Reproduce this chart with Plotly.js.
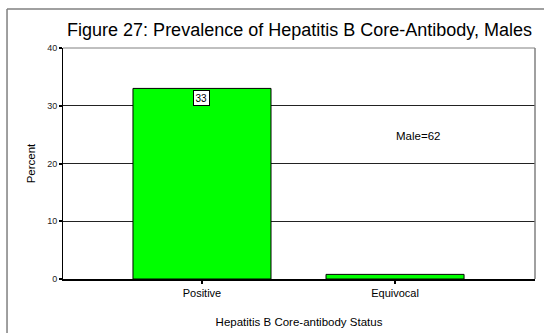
<!DOCTYPE html>
<html>
<head>
<meta charset="utf-8">
<script src="https://cdn.plot.ly/plotly-3.0.1.min.js"></script>
<style>
  html, body { margin: 0; padding: 0; background: #fff; overflow: hidden; }
  #chart { width: 544px; height: 333px; }
</style>
</head>
<body>
<div id="chart"></div>
<script>
// Hepatitis B core-antibody status among males (percent)
const categories = ['Positive', 'Equivocal'];
const percents = [33, 0.8];
const barLabels = ['33'];
const sampleNote = 'Male=62';
const yTicks = [0, 10, 20, 30, 40];

const FONT = 'Liberation Sans, Arial, sans-serif';

const trace = {
  type: 'bar',
  x: categories,
  y: percents,
  width: 0.715,
  marker: { color: '#00ff00', line: { color: '#000', width: 1 } },
  hoverinfo: 'skip'
};

// boxed value labels sitting just inside the top of each labelled bar
const valueAnnotations = barLabels.map((t, i) => ({
  x: categories[i], y: percents[i], xref: 'x', yref: 'y',
  text: t, showarrow: false, yanchor: 'top', yshift: -2,
  bgcolor: '#fff', bordercolor: '#000', borderwidth: 1, borderpad: 1.5,
  font: { family: FONT, size: 10, color: '#000' }
}));

const layout = {
  width: 544, height: 333,
  margin: { l: 63, r: 9, t: 48, b: 54, pad: 0 },
  paper_bgcolor: '#fff', plot_bgcolor: '#fff',
  showlegend: false,
  title: {
    text: 'Figure 27: Prevalence of Hepatitis B Core-Antibody, Males',
    font: { family: FONT, size: 18, color: '#000' },
    x: 0.5506, xanchor: 'center', y: 0.91, yanchor: 'middle'
  },
  xaxis: {
    type: 'category',
    range: [-0.72, 1.725],
    showline: true, linecolor: '#000', linewidth: 1.5,
    ticks: 'outside', ticklen: 3, tickwidth: 2, tickcolor: '#000',
    showgrid: false, zeroline: false,
    tickfont: { family: FONT, size: 11, color: '#000' },
    title: { text: 'Hepatitis B Core-antibody Status', standoff: 20,
             font: { family: FONT, size: 11.5, color: '#000' } },
    fixedrange: true
  },
  yaxis: {
    range: [0, 40], tickvals: yTicks,
    showline: true, linecolor: '#000', linewidth: 1,
    ticks: 'outside', ticklen: 3, tickwidth: 2, tickcolor: '#000',
    showgrid: true, gridcolor: '#222', gridwidth: 1,
    zeroline: false,
    tickfont: { family: FONT, size: 9, color: '#222' },
    title: { text: 'Percent', standoff: 9,
             font: { family: FONT, size: 11.5, color: '#000' } },
    fixedrange: true
  },
  shapes: [
    // outer chart frame: left and top edges, running off the page
    { type: 'line', xref: 'paper', yref: 'paper',
      x0: -0.1186, x1: -0.1186, y0: -0.2338, y1: 1.1688,
      line: { color: '#808080', width: 1.5 }, layer: 'below' },
    { type: 'line', xref: 'paper', yref: 'paper',
      x0: -0.1186, x1: 1.0191, y0: 1.1688, y1: 1.1688,
      line: { color: '#808080', width: 1.5 }, layer: 'below' },
    // plot-area top and right border
    { type: 'line', xref: 'paper', yref: 'paper', x0: 0, x1: 1, y0: 1, y1: 1,
      line: { color: '#808080', width: 1 }, layer: 'above' },
    { type: 'line', xref: 'paper', yref: 'paper', x0: 1, x1: 1, y0: 0, y1: 1,
      line: { color: '#808080', width: 1.5 }, layer: 'above' }
  ],
  annotations: valueAnnotations.concat([
    { x: 0.752, y: 0.62, xref: 'paper', yref: 'paper', text: sampleNote,
      showarrow: false, xanchor: 'center', yanchor: 'middle',
      font: { family: FONT, size: 11.5, color: '#000' } }
  ])
};

Plotly.newPlot('chart', [trace], layout, { staticPlot: true, displayModeBar: false });
</script>
</body>
</html>
